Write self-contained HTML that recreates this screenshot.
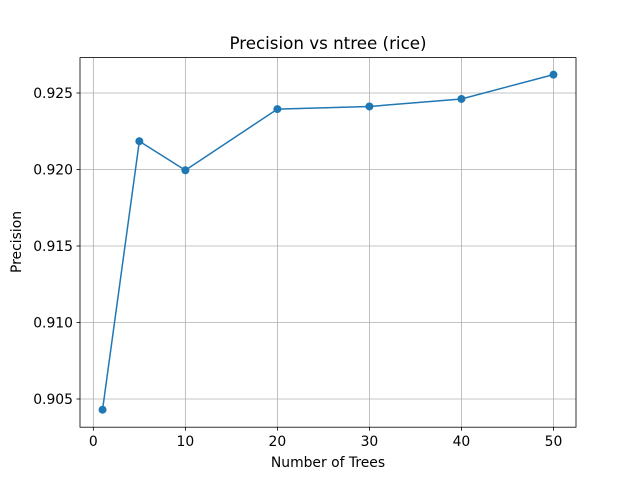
<!DOCTYPE html>
<html><head><meta charset="utf-8"><style>
body{margin:0;background:#fff}
svg{display:block;font-family:"DejaVu Sans","Liberation Sans",sans-serif}
</style></head><body>
<svg id="chart" width="640" height="480" viewBox="0 0 640 480" xmlns="http://www.w3.org/2000/svg">
<rect width="640" height="480" fill="#fff"/>
<g id="grid"></g>
<g id="plot"></g>
<rect x="80" y="57.6" width="496" height="369.6" fill="none" stroke="#000" stroke-width="0.8"/>
<g id="ticks"></g>
<text x="328" y="49" text-anchor="middle" font-size="16.7">Precision vs ntree (rice)</text>
<text x="328" y="467" text-anchor="middle" font-size="13.9">Number of Trees</text>
<text x="21" y="242" text-anchor="middle" font-size="13.9" transform="rotate(-90 21 242)">Precision</text>
</svg>
<script>
const ntree = [1, 5, 10, 20, 30, 40, 50];
const precision = [0.9043, 0.92185, 0.91995, 0.92395, 0.92412, 0.92461, 0.9262];
const xTicks = [0, 10, 20, 30, 40, 50];
const yTicks = [0.905, 0.910, 0.915, 0.920, 0.925];
const yTickLabels = ["0.905", "0.910", "0.915", "0.920", "0.925"];

const L=80,R=576,T=57.6,B=427.2;
const xMin=-1.45,xMax=52.45,yMin=0.903157,yMax=0.927314;
const sx=v=>L+(v-xMin)/(xMax-xMin)*(R-L);
const sy=v=>B-(v-yMin)/(yMax-yMin)*(B-T);
const NS="http://www.w3.org/2000/svg";
function mk(tag,attrs,parent){const e=document.createElementNS(NS,tag);for(const k in attrs)e.setAttribute(k,attrs[k]);parent.appendChild(e);return e;}
const grid=document.getElementById('grid'),plot=document.getElementById('plot'),ticks=document.getElementById('ticks');
xTicks.forEach(t=>{
  const x=sx(t);
  const g=mk('line',{x1:x,x2:x,y1:T,y2:B,stroke:'#b0b0b0','stroke-width':0.8},grid);
  
  
  const tk=mk('line',{x1:x,x2:x,y1:B,y2:B+3.5,stroke:'#000','stroke-width':0.8},ticks);
  
  
  const lb=mk('text',{x:x,y:B+19,'text-anchor':'middle','font-size':13.9},ticks);
  lb.textContent=t;
  
  
});
yTicks.forEach((t,i)=>{
  const y=sy(t);
  const g=mk('line',{x1:L,x2:R,y1:y,y2:y,stroke:'#b0b0b0','stroke-width':0.8},grid);
  
  
  const tk=mk('line',{x1:L-3.5,x2:L,y1:y,y2:y,stroke:'#000','stroke-width':0.8},ticks);
  
  
  const lb=mk('text',{x:L-7,y:y+5,'text-anchor':'end','font-size':13.9},ticks);
  lb.textContent=yTickLabels[i];
  
  
});
const pts=ntree.map((n,i)=>sx(n)+','+sy(precision[i])).join(' ');
const line=mk('polyline',{points:pts,fill:'none',stroke:'#1f77b4','stroke-width':1.5},plot);


ntree.forEach((n,i)=>{
  const c=mk('circle',{cx:sx(n),cy:sy(precision[i]),r:4,fill:'#1f77b4'},plot);
  
  
});
</script>
</body></html>
